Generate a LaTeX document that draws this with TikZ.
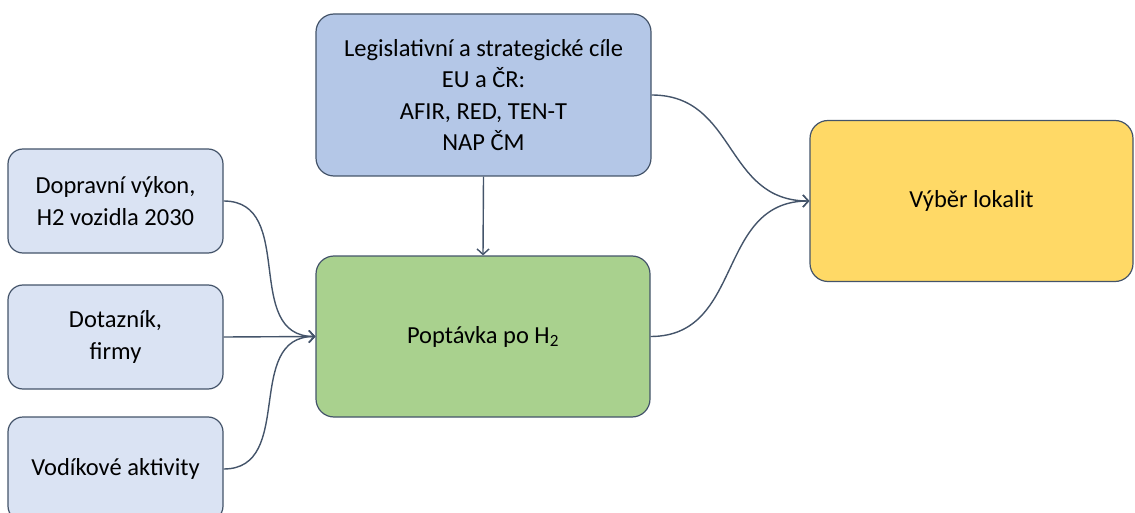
\documentclass[tikz,border=0pt]{standalone}
\usepackage{fontspec}
\setmainfont{Carlito}
\usetikzlibrary{arrows.meta}
\definecolor{lightbox}{HTML}{DAE3F3}
\definecolor{bluebox}{HTML}{B4C7E7}
\definecolor{greenbox}{HTML}{A9D18E}
\definecolor{yellowbox}{HTML}{FFD966}
\definecolor{edge}{HTML}{44546A}
\begin{document}
\begin{tikzpicture}[x=1pt,y=-1pt,
  box/.style={draw=edge, line width=1.2pt, rounded corners=18pt, align=center,
    font=\fontsize{24.5}{31.5}\selectfont, inner sep=0pt},
  smallbox/.style={box, fill=lightbox, minimum width=215pt, minimum height=104pt, rounded corners=15pt},
  conn/.style={draw=edge, line width=1.4pt, looseness=1.15, -{Straight Barb[length=5.5pt,width=12pt,line width=1.4pt]}}
]
\useasboundingbox (0,0) rectangle (1135,513);
\node[smallbox] (b1) at (115.5,201) {Dopravní výkon,\\H2 vozidla 2030};
\node[smallbox] (b2) at (115.5,337) {Dotazník,\\firmy};
\node[smallbox] (b3) at (115.5,469) {Vodíkové aktivity};
\node[box, fill=bluebox, minimum width=335pt, minimum height=162pt] (top) at (483.5,95)
  {Legislativní a strategické cíle\\EU a ČR:\\AFIR, RED, TEN-T\\NAP ČM};
\node[box, fill=greenbox, minimum width=334pt, minimum height=161pt] (dem) at (483,336.5)
  {Poptávka po H\textsubscript{2}};
\node[box, fill=yellowbox, minimum width=323pt, minimum height=161pt] (sel) at (971.5,201)
  {Výběr lokalit};
\draw[conn] (top.south) -- (dem.north);
\draw[conn] (b1.east) to[out=0,in=180] (dem.west);
\draw[conn] (b2.east) -- (dem.west);
\draw[conn] (b3.east) to[out=0,in=180] (dem.west);
\draw[conn] (top.east) to[out=0,in=180] (sel.west);
\draw[conn] (dem.east) to[out=0,in=180] (sel.west);
\end{tikzpicture}
\end{document}
